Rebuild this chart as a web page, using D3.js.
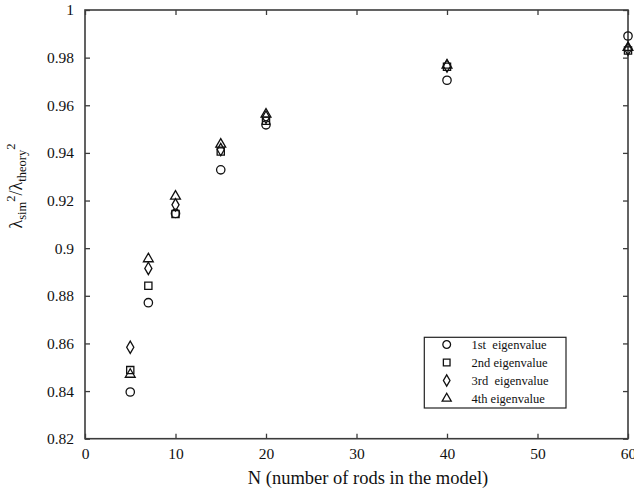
<!DOCTYPE html>
<html>
<head>
<meta charset="utf-8">
<script src="https://cdn.jsdelivr.net/npm/d3@7"></script>
<style>
  html, body { margin: 0; padding: 0; background: #fff; }
  svg { display: block; }
  text { font-family: "Liberation Serif", "Times New Roman", serif; fill: #111; }
</style>
</head>
<body>
<svg id="chart" width="634" height="494"></svg>
<script>
// ---- data ----
const rodCounts = [5, 7, 10, 15, 20, 40, 60];
const eig1 = [0.8396, 0.8771, 0.9146, 0.9329, 0.9518, 0.9705, 0.9891];
const eig2 = [0.8488, 0.8842, 0.9143, 0.9406, 0.9535, 0.9762, 0.9830];
const eig3 = [0.8584, 0.8915, 0.9182, 0.9414, 0.9550, 0.9765, 0.9836];
const eig4 = [0.8470, 0.8955, 0.9218, 0.9436, 0.9562, 0.9768, 0.9842];
const seriesNames = ["1st  eigenvalue", "2nd eigenvalue", "3rd  eigenvalue", "4th eigenvalue"];
const xTicks = [0, 10, 20, 30, 40, 50, 60];
const yTicks = [0.82, 0.84, 0.86, 0.88, 0.9, 0.92, 0.94, 0.96, 0.98, 1];
const yTickLabels = ["0.82", "0.84", "0.86", "0.88", "0.9", "0.92", "0.94", "0.96", "0.98", "1"];

// ---- layout ----
const svg = d3.select("#chart");
const L = 85, R = 628, T = 10, B = 438.7;
const x = d3.scaleLinear().domain([0, 60]).range([L, R]);
const y = d3.scaleLinear().domain([0.82, 1]).range([B, T]);
const frameColor = "#3c3c3c";

// axes with inward ticks on all four sides
const tickLen = 5;
const gB = svg.append("g").attr("transform", `translate(0,${B})`)
  .call(d3.axisBottom(x).tickValues(xTicks).tickSizeInner(-tickLen).tickSizeOuter(0).tickPadding(9));
const gT = svg.append("g").attr("transform", `translate(0,${T})`)
  .call(d3.axisTop(x).tickValues(xTicks).tickSizeInner(-tickLen).tickSizeOuter(0).tickFormat(""));
const gL = svg.append("g").attr("transform", `translate(${L},0)`)
  .call(d3.axisLeft(y).tickValues(yTicks).tickSizeInner(-tickLen).tickSizeOuter(0).tickPadding(11)
    .tickFormat((d, i) => yTickLabels[i]));
const gR = svg.append("g").attr("transform", `translate(${R},0)`)
  .call(d3.axisRight(y).tickValues(yTicks).tickSizeInner(-tickLen).tickSizeOuter(0).tickFormat(""));

[gB, gT, gL, gR].forEach(g => {
  g.select(".domain").remove();
  g.selectAll(".tick line").attr("stroke", frameColor).attr("stroke-width", 1.3);
  g.selectAll(".tick text").attr("font-size", 15.5).attr("fill", "#111")
    .attr("font-family", '"Liberation Serif", "Times New Roman", serif');
});
svg.append("rect").attr("x", L).attr("y", T).attr("width", R - L).attr("height", B - T)
  .attr("fill", "none").attr("stroke", frameColor).attr("stroke-width", 1.6);

// ---- markers ----
const symbols = [d3.symbolCircle, d3.symbolSquare, d3.symbolDiamond, d3.symbolTriangle];
const sizes = [55, 52, 44, 42];
const allSeries = [eig1, eig2, eig3, eig4];
allSeries.forEach((vals, si) => {
  const sym = d3.symbol().type(symbols[si]).size(sizes[si]);
  svg.append("g").selectAll("path").data(vals).join("path")
    .attr("d", sym)
    .attr("transform", (v, i) => `translate(${x(rodCounts[i])},${y(v)})`)
    .attr("fill", "none").attr("stroke", "#111").attr("stroke-width", 1.3);
});

// ---- legend ----
const lg = svg.append("g");
lg.append("rect").attr("x", 424.3).attr("y", 337.3).attr("width", 141.7).attr("height", 70.7)
  .attr("fill", "#fff").attr("stroke", "#222").attr("stroke-width", 1.2);
const rowY = [344.5, 362.5, 380.5, 398.5];
seriesNames.forEach((name, i) => {
  lg.append("path").attr("d", d3.symbol().type(symbols[i]).size(sizes[i] * 0.85))
    .attr("transform", `translate(446.7,${rowY[i]})`)
    .attr("fill", "none").attr("stroke", "#111").attr("stroke-width", 1.3);
  lg.append("text").attr("x", 471.5).attr("y", rowY[i] + 4)
    .attr("font-size", 12.5).attr("xml:space", "preserve").style("white-space", "pre")
    .text(name);
});

// ---- axis titles ----
svg.append("text").attr("x", 368).attr("y", 484).attr("text-anchor", "middle")
  .attr("font-size", 18.5).text("N (number of rods in the model)");

const yl = svg.append("text").attr("transform", "translate(22,186) rotate(-90)")
  .attr("text-anchor", "middle").attr("font-size", 18);
yl.append("tspan").text("λ");
yl.append("tspan").attr("font-size", 12.5).attr("dy", 4).text("sim");
yl.append("tspan").attr("font-size", 12.5).attr("dy", -11).text("2");
yl.append("tspan").attr("dy", 7).text("/λ");
yl.append("tspan").attr("font-size", 12.5).attr("dy", 4).text("theory");
yl.append("tspan").attr("font-size", 12.5).attr("dy", -11).text("2");
</script>
</body>
</html>
